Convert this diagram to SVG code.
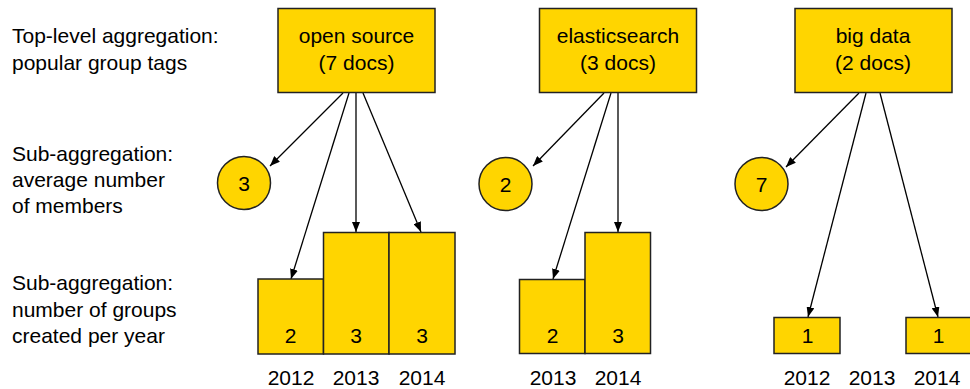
<svg xmlns="http://www.w3.org/2000/svg" width="970" height="389" viewBox="0 0 970 389">
<defs>
<style>
text{font-family:"Liberation Sans",Arial,sans-serif;font-size:21px;fill:#000}
.c{text-anchor:middle}
.n{fill:#FFD500;stroke:#222;stroke-width:1.5}
.e{stroke:#000;stroke-width:1.3;fill:none;marker-end:url(#ah)}
</style>
<marker id="ah" viewBox="0 0 10 8" refX="10" refY="4" markerWidth="10" markerHeight="8" markerUnits="userSpaceOnUse" orient="auto">
<path d="M0,0 L10,4 L0,8 Z" fill="#000"/>
</marker>
</defs>
<rect width="970" height="389" fill="#fff"/>
<g id="labels">
<text x="12" y="43">Top-level aggregation:</text>
<text x="12" y="70">popular group tags</text>
<text x="12" y="161">Sub-aggregation:</text>
<text x="12" y="187">average number</text>
<text x="12" y="213">of members</text>
<text x="12" y="290">Sub-aggregation:</text>
<text x="12" y="317">number of groups</text>
<text x="12" y="343">created per year</text>
</g>
<g id="connectors">
<line class="e" x1="343" y1="93" x2="270" y2="166"/>
<line class="e" x1="349" y1="93" x2="291" y2="279"/>
<line class="e" x1="356" y1="93" x2="356" y2="232"/>
<line class="e" x1="363" y1="93" x2="421" y2="232"/>
<line class="e" x1="604" y1="93" x2="533" y2="166"/>
<line class="e" x1="611" y1="93" x2="553" y2="279"/>
<line class="e" x1="618" y1="93" x2="618" y2="232"/>
<line class="e" x1="859" y1="93" x2="786" y2="167"/>
<line class="e" x1="866" y1="93" x2="808" y2="317"/>
<line class="e" x1="880" y1="93" x2="938" y2="317"/>
</g>
<g id="open-source">
<rect class="n" x="278" y="8.5" width="157" height="84"/>
<text class="c" x="356.5" y="43">open source</text>
<text class="c" x="356.5" y="70">(7 docs)</text>
</g>
<g id="os-avg"><circle class="n" cx="244" cy="183" r="26.5"/><text class="c" x="244" y="190.5">3</text></g>
<g id="os-2012"><rect class="n" x="258" y="279" width="65.5" height="75"/><text class="c" x="290.5" y="343">2</text></g>
<g id="os-2013"><rect class="n" x="323.5" y="232.5" width="65.5" height="121.5"/><text class="c" x="356" y="343">3</text></g>
<g id="os-2014"><rect class="n" x="389" y="232.5" width="66" height="121.5"/><text class="c" x="422" y="343">3</text></g>
<g id="os-years">
<text class="c" x="291" y="385">2012</text>
<text class="c" x="356" y="385">2013</text>
<text class="c" x="422" y="385">2014</text>
</g>
<g id="elasticsearch">
<rect class="n" x="539.5" y="8.5" width="157" height="84"/>
<text class="c" x="618" y="43">elasticsearch</text>
<text class="c" x="618" y="70">(3 docs)</text>
</g>
<g id="es-avg"><circle class="n" cx="505.5" cy="184" r="26.5"/><text class="c" x="505.5" y="191.5">2</text></g>
<g id="es-2013"><rect class="n" x="519.5" y="279.5" width="65.5" height="74"/><text class="c" x="552.5" y="343">2</text></g>
<g id="es-2014"><rect class="n" x="585" y="232.5" width="65.5" height="121"/><text class="c" x="618" y="343">3</text></g>
<g id="es-years">
<text class="c" x="553" y="385">2013</text>
<text class="c" x="618" y="385">2014</text>
</g>
<g id="big-data">
<rect class="n" x="795" y="8.5" width="157" height="84"/>
<text class="c" x="873" y="43">big data</text>
<text class="c" x="873" y="70">(2 docs)</text>
</g>
<g id="bd-avg"><circle class="n" cx="761.5" cy="184" r="26.5"/><text class="c" x="761.5" y="191.5">7</text></g>
<g id="bd-2012"><rect class="n" x="774" y="317.5" width="66" height="36"/><text class="c" x="807.5" y="343">1</text></g>
<g id="bd-2014"><rect class="n" x="906" y="317.5" width="66" height="36"/><text class="c" x="938.5" y="343">1</text></g>
<g id="bd-years">
<text class="c" x="807" y="385">2012</text>
<text class="c" x="872" y="385">2013</text>
<text class="c" x="937" y="385">2014</text>
</g>
</svg>
